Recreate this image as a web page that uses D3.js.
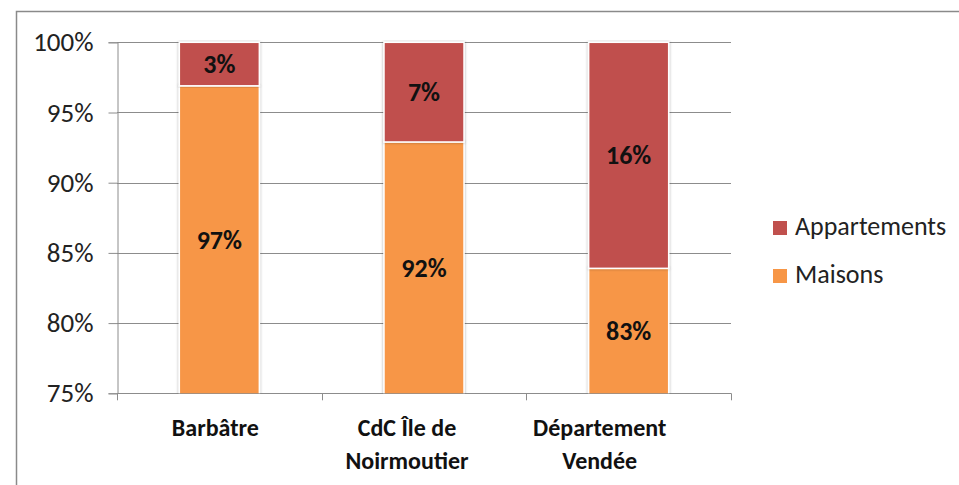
<!DOCTYPE html>
<html>
<head>
<meta charset="utf-8">
<script src="https://cdn.jsdelivr.net/npm/d3@7"></script>
<style>
  html, body { margin: 0; padding: 0; background: #fff; }
  svg { display: block; font-family: Carlito, Calibri, Lato, sans-serif; }
</style>
</head>
<body>
<svg id="chart" width="959" height="485"></svg>
<script>
// ---- data ----
const categories = [["Barbâtre"], ["CdC Île de", "Noirmoutier"], ["Département", "Vendée"]];
const categoryKeys = ["Barbâtre", "CdC Île de Noirmoutier", "Département Vendée"];
const seriesNames = ["Maisons", "Appartements"];
const maisons = [96.9, 92.9, 83.9];
const appartements = [3.1, 7.1, 16.1];
const maisonsLabels = ["97%", "92%", "83%"];
const appartementsLabels = ["3%", "7%", "16%"];
const yTicks = [75, 80, 85, 90, 95, 100];

// ---- style ----
const colors = { "Maisons": "#F79646", "Appartements": "#C0504D" };
const gridColor = "#8c8c8c";
const labelShift = [-4, -17, -29];

const svg = d3.select("#chart");

const defs = svg.append("defs");
const f = defs.append("filter").attr("id", "shadow").attr("x", "-20%").attr("y", "-5%").attr("width", "140%").attr("height", "110%");
f.append("feGaussianBlur").attr("in", "SourceAlpha").attr("stdDeviation", 1.8).attr("result", "b");
f.append("feComponentTransfer").attr("in", "b").attr("result", "o2")
  .append("feFuncA").attr("type", "linear").attr("slope", 0.35);
const m = f.append("feMerge");
m.append("feMergeNode").attr("in", "o2");
m.append("feMergeNode").attr("in", "SourceGraphic");

const clip = defs.append("clipPath").attr("id", "plotclip");

// outer frame
svg.append("rect").attr("x", 16.5).attr("y", 11.5).attr("width", 1000).attr("height", 1000)
  .attr("fill", "#fff").attr("stroke", "#8a8a8a").attr("stroke-width", 1.5);

const plot = { left: 117, right: 731, top: 42.3, bottom: 393.3 };

const x = d3.scaleBand().domain(categoryKeys).range([plot.left, plot.right])
  .paddingInner(0.609).paddingOuter(0.3045);
const y = d3.scaleLinear().domain([75, 100]).range([plot.bottom, plot.top]);

clip.append("rect").attr("x", plot.left).attr("y", plot.top - 2)
  .attr("width", plot.right - plot.left).attr("height", plot.bottom - plot.top + 2);

// gridlines
svg.append("g").selectAll("line").data(yTicks.filter(t => t > 75)).join("line")
  .attr("x1", plot.left).attr("x2", plot.right)
  .attr("y1", d => Math.round(y(d)) + 0.5).attr("y2", d => Math.round(y(d)) + 0.5)
  .attr("stroke", gridColor).attr("stroke-width", 1);

// y axis
const yAxis = svg.append("g").attr("transform", `translate(${plot.left + 0.5},0)`)
  .call(d3.axisLeft(y).tickValues(yTicks).tickFormat(d => d + "%").tickSize(9).tickPadding(15));
yAxis.select(".domain").attr("stroke", gridColor);
yAxis.selectAll(".tick line").attr("stroke", gridColor);
yAxis.selectAll(".tick text").attr("font-size", 27).attr("fill", "#222").attr("font-family", "Carlito, Calibri, Lato, sans-serif");

// x axis line and ticks
const xg = svg.append("g");
xg.append("line").attr("x1", plot.left).attr("x2", plot.right)
  .attr("y1", Math.round(plot.bottom) + 0.5).attr("y2", Math.round(plot.bottom) + 0.5)
  .attr("stroke", gridColor);
const bounds = [plot.left].concat(categoryKeys.map(c => x(c) + x.bandwidth() + x.step() * x.paddingInner() / 2));
bounds[bounds.length - 1] = plot.right;
xg.selectAll("line.tk").data(bounds).join("line").attr("class", "tk")
  .attr("x1", d => Math.round(d) + 0.5).attr("x2", d => Math.round(d) + 0.5)
  .attr("y1", plot.bottom).attr("y2", plot.bottom + 7).attr("stroke", gridColor);

// stacked bars
const rows = categoryKeys.map((c, i) => ({ cat: c, Maisons: maisons[i], Appartements: appartements[i] }));
const stacked = d3.stack().keys(seriesNames)(rows);

const bars = svg.append("g").attr("clip-path", "url(#plotclip)");
stacked.forEach(s => {
  bars.append("g").attr("fill", colors[s.key]).selectAll("rect").data(s).join("rect")
    .attr("x", d => x(d.data.cat))
    .attr("width", x.bandwidth())
    .attr("y", d => y(Math.min(100, d[1])))
    .attr("height", d => y(Math.max(75, d[0])) - y(Math.min(100, d[1])) + (s.key === "Maisons" ? 4 : 0))
    .attr("stroke", "#fff").attr("stroke-width", 1.5)
    .attr("filter", "url(#shadow)");
});

// data labels
const labels = { "Maisons": maisonsLabels, "Appartements": appartementsLabels };
stacked.forEach(s => {
  svg.append("g").selectAll("text").data(s).join("text")
    .attr("x", d => x(d.data.cat) + x.bandwidth() / 2)
    .attr("y", d => (y(Math.max(75, d[0])) + y(Math.min(100, d[1]))) / 2)
    .attr("dy", "0.35em")
    .attr("text-anchor", "middle")
    .attr("font-size", 26).attr("font-weight", "bold").attr("fill", "#111")
    .text((d, i) => labels[s.key][i]);
});

// category labels
const cl = svg.append("g");
categoryKeys.forEach((c, i) => {
  const t = cl.append("text")
    .attr("x", x(c) + x.bandwidth() / 2 + labelShift[i])
    .attr("y", 436)
    .attr("text-anchor", "middle")
    .attr("font-size", 24).attr("font-weight", "bold").attr("fill", "#111");
  categories[i].forEach((line, j) => {
    t.append("tspan").attr("x", x(c) + x.bandwidth() / 2 + labelShift[i]).attr("dy", j === 0 ? 0 : 33).text(line);
  });
});

// legend
const legendOrder = ["Appartements", "Maisons"];
const lg = svg.append("g");
legendOrder.forEach((k, i) => {
  const row = lg.append("g").attr("transform", `translate(773,${221 + i * 48})`);
  row.append("rect").attr("width", 14).attr("height", 14).attr("fill", colors[k]);
  row.append("text").attr("x", 22).attr("y", 14).attr("font-size", 26).attr("fill", "#222").text(k);
});
</script>
</body>
</html>
